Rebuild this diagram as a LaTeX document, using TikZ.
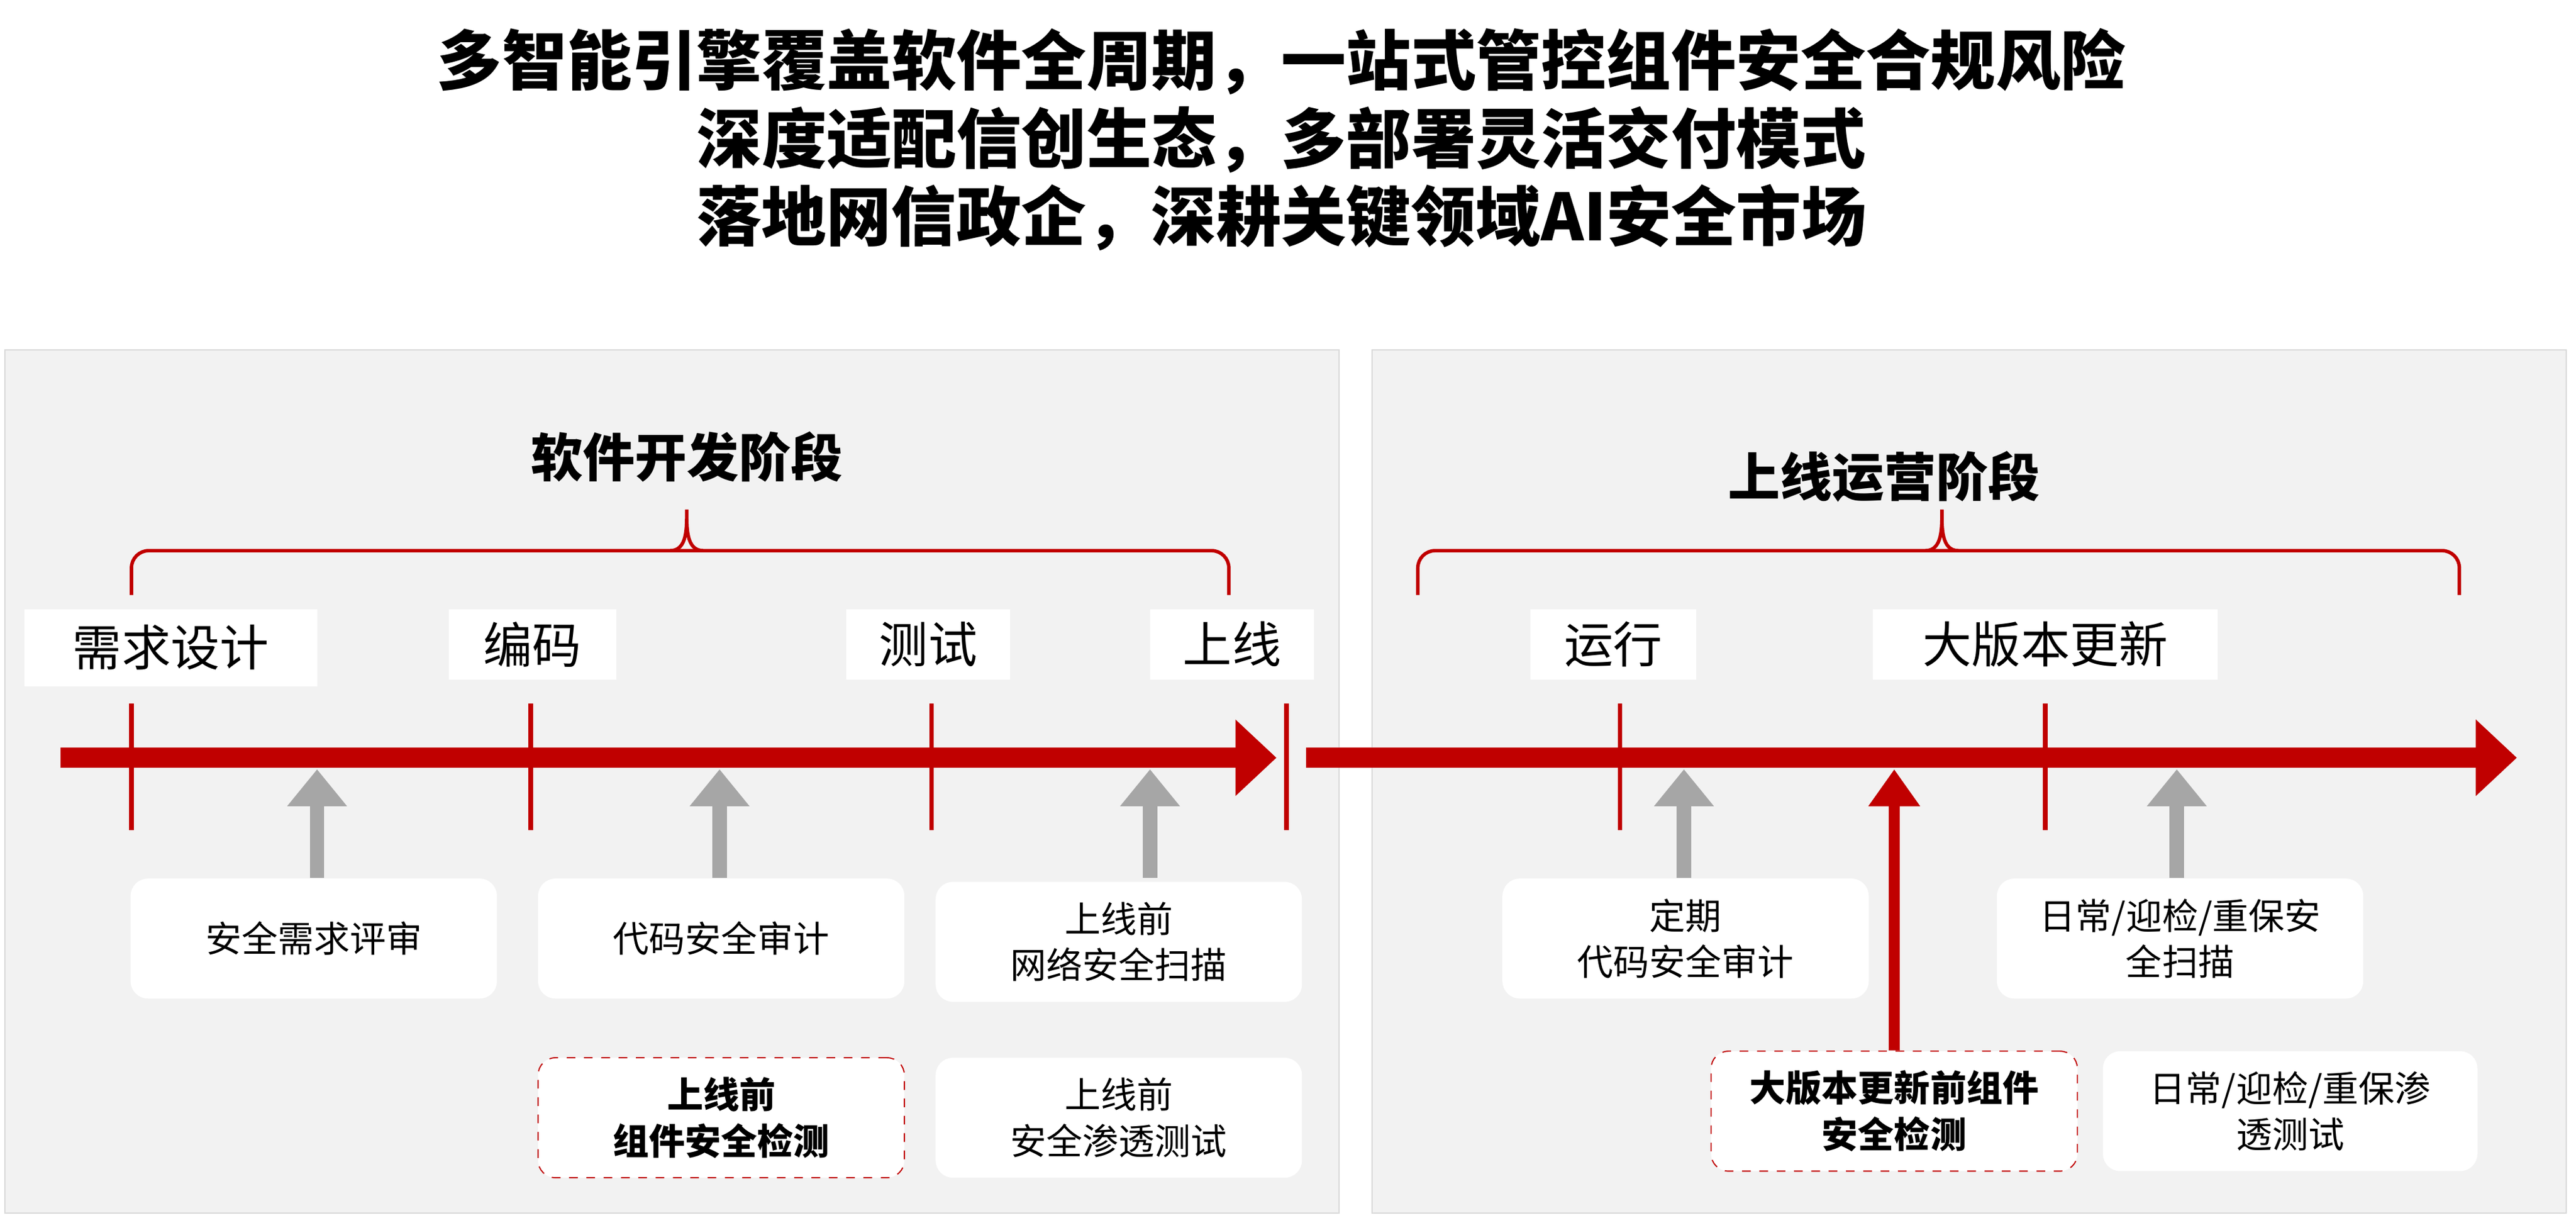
\documentclass[tikz,border=0pt]{standalone}
\usepackage{fontspec}
\setmainfont{Noto Sans CJK SC}
\usetikzlibrary{arrows.meta}
\definecolor{hwred}{RGB}{192,0,0}
\definecolor{panelgray}{RGB}{242,242,242}
\definecolor{arrgray}{RGB}{166,166,166}
\tikzset{
  panel/.style={fill=panelgray, draw=black!15},
  stage/.style={fill=white, inner sep=0pt, font=\fontsize{17}{20}\selectfont},
  task/.style={fill=white, rounded corners=6pt, minimum width=4.46cm, minimum height=1.46cm, align=center, font=\fontsize{12.5}{16}\selectfont},
  keytask/.style={task, draw=hwred, dashed, font=\bfseries\fontsize{12.5}{16}\selectfont},
  tick/.style={hwred, line width=1.6pt},
  timeline/.style={hwred, line width=7pt, -{Triangle[length=0.5cm,width=0.9cm]}},
  uparrow/.style={arrgray, line width=5pt, -{Triangle[length=0.45cm,width=0.7cm]}},
  brace/.style={hwred, line width=1.2pt, rounded corners=6pt}
}
\begin{document}
\begin{tikzpicture}[x=0.02cm, y=-0.02cm]
  \useasboundingbox (0,0) rectangle (1568,741);

  % titles
  \node[font=\bfseries\fontsize{22.5}{27}\selectfont, align=center] (title) at (780,85)
    {多智能引擎覆盖软件全周期，一站式管控组件安全合规风险\\深度适配信创生态，多部署灵活交付模式\\落地网信政企，深耕关键领域AI安全市场};

  % panels
  \draw[panel] (3,213) rectangle (815,738);
  \draw[panel] (835,213) rectangle (1562,738);
  \node[font=\bfseries\fontsize{18}{22}\selectfont] (dev) at (418,278) {软件开发阶段};
  \node[font=\bfseries\fontsize{18}{22}\selectfont] (ops) at (1147,290) {上线运营阶段};

  % braces
  \draw[brace] (80,362) -- (80,335) -- (418,335) -- (748,335) -- (748,362);
  \draw[hwred, line width=1.2pt] (408,335) to[out=0,in=-90] (418,310) to[out=-90,in=180] (428,335);
  \draw[brace] (863,362) -- (863,335) -- (1497,335) -- (1497,362);
  \draw[hwred, line width=1.2pt] (1172,335) to[out=0,in=-90] (1182,310) to[out=-90,in=180] (1192,335);

  % ticks
  \foreach \x in {80,323,567,783,986,1245}
    \draw[tick] (\x,428) -- (\x,505);

  % timelines
  \coordinate (l0) at (37,461);
  \coordinate (l1) at (777,461);
  \coordinate (r0) at (795,461);
  \coordinate (r1) at (1532,461);
  \draw[timeline] (l0) -- (l1);
  \draw[timeline] (r0) -- (r1);

  % stage labels
  \node[stage, minimum width=3.56cm, minimum height=0.94cm] (req) at (104,394) {需求设计};
  \node[stage, minimum width=2.04cm, minimum height=0.86cm] (code) at (324,392) {编码};
  \node[stage, minimum width=2.0cm, minimum height=0.86cm] (test) at (565,392) {测试};
  \node[stage, minimum width=2.0cm, minimum height=0.86cm] (online) at (750,392) {上线};
  \node[stage, minimum width=2.02cm, minimum height=0.86cm] (run) at (982,392) {运行};
  \node[stage, minimum width=4.2cm, minimum height=0.86cm] (upd) at (1245,392) {大版本更新};

  % tasks
  \node[task] (t1) at (191,571) {安全需求评审};
  \node[task] (t2) at (439,571) {代码安全审计};
  \node[task] (t3) at (681,573) {上线前\\网络安全扫描};
  \node[keytask] (t4) at (439,680) {上线前\\组件安全检测};
  \node[task] (t5) at (681,680) {上线前\\安全渗透测试};
  \node[task] (t6) at (1026,571) {定期\\代码安全审计};
  \node[task] (t7) at (1327,571) {日常/迎检/重保安\\全扫描};
  \node[keytask] (t8) at (1153,676) {大版本更新前组件\\安全检测};
  \node[task, minimum width=4.56cm] (t9) at (1394,676) {日常/迎检/重保渗\\透测试};

  % arrows up
  \foreach \n/\x in {t1/193,t2/438,t3/700,t6/1025,t7/1325}
    \draw[uparrow] (\x,534) -- (\x,468);
  \draw[hwred, line width=4pt, -{Triangle[length=0.45cm,width=0.6cm]}] (t8.north) -- (1153,468);
\end{tikzpicture}
\end{document}
